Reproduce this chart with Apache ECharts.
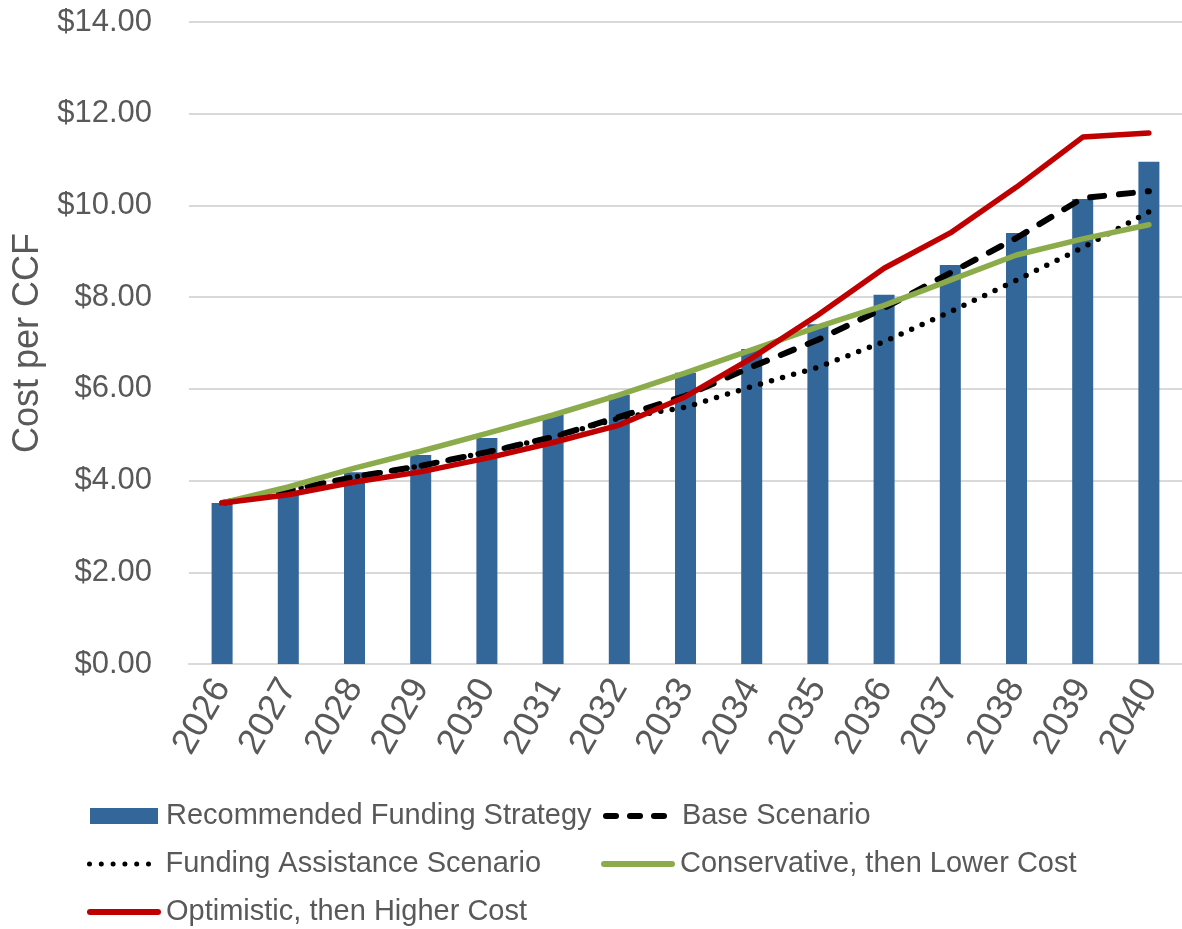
<!DOCTYPE html>
<html>
<head>
<meta charset="utf-8">
<script src="https://cdn.jsdelivr.net/npm/echarts@6/dist/echarts.min.js"></script>
<style>
  html, body { margin: 0; padding: 0; background: #ffffff; }
  #chart { width: 1182px; height: 929px; }
</style>
</head>
<body>
<div id="chart"></div>
<script>
// Projected cost per CCF, 2026-2040
const years = ['2026', '2027', '2028', '2029', '2030', '2031', '2032', '2033',
               '2034', '2035', '2036', '2037', '2038', '2039', '2040'];

const recommendedStrategy = [3.51, 3.78, 4.18, 4.56, 4.93, 5.43, 5.87, 6.35,
                             6.87, 7.41, 8.05, 8.70, 9.40, 10.14, 10.95];
const baseScenario        = [3.51, 3.79, 4.08, 4.32, 4.62, 4.95, 5.39, 5.85,
                             6.48, 7.07, 7.76, 8.53, 9.29, 10.16, 10.31];
const fundingAssistance   = [3.51, 3.79, 4.08, 4.32, 4.62, 4.95, 5.36, 5.60,
                             6.05, 6.47, 7.03, 7.68, 8.37, 9.08, 9.86];
const conservativeLower   = [3.51, 3.86, 4.27, 4.64, 5.03, 5.43, 5.87, 6.35,
                             6.85, 7.35, 7.82, 8.37, 8.92, 9.27, 9.58];
const optimisticHigher    = [3.51, 3.69, 3.97, 4.19, 4.49, 4.83, 5.21, 5.83,
                             6.67, 7.61, 8.63, 9.40, 10.40, 11.49, 11.58];

const yTicks = { min: 0, max: 14, step: 2 };

const textColor = '#595959';
const fontFamily = 'Liberation Sans, Arial, sans-serif';

const baseDash = [14, 15];
const dotDash = [0, 11.5];

// One legend block per entry so each sits in its own row/column slot
function legendAt(name, left, top, iconLine) {
  const legend = {
    data: [name],
    left: left,
    top: top,
    padding: 0,
    itemWidth: 68,
    itemHeight: 16,
    itemGap: 0,
    selectedMode: false,
    textStyle: { color: textColor, fontSize: 29, fontFamily: fontFamily, padding: [0, 0, 0, 3], lineHeight: 32 }
  };
  if (iconLine) {
    legend.itemStyle = { opacity: 0 };
    legend.lineStyle = Object.assign({ cap: 'round' }, iconLine);
  } else {
    legend.icon = 'rect';
  }
  return legend;
}

const chart = echarts.init(document.getElementById('chart'), null, { renderer: 'canvas' });

chart.setOption({
  backgroundColor: '#ffffff',
  animation: false,
  grid: { left: 189, top: 22, width: 1000, height: 642, containLabel: false },
  legend: [
    legendAt('Recommended Funding Strategy', 90, 800),
    legendAt('Base Scenario', 603, 800, { width: 6, type: [10, 14], color: '#000000' }),
    legendAt('Funding Assistance Scenario', 87, 848, { width: 5, type: [0, 11.8], color: '#000000' }),
    legendAt('Conservative, then Lower Cost', 601, 848, { width: 6, type: 'solid', color: '#8cab4b' }),
    legendAt('Optimistic, then Higher Cost', 87, 896, { width: 6, type: 'solid', color: '#c00000' })
  ],
  xAxis: {
    type: 'category',
    data: years,
    boundaryGap: true,
    axisLine: { show: true, lineStyle: { color: '#d9d9d9', width: 2 } },
    axisTick: { show: false },
    axisLabel: {
      interval: 0,
      rotate: 60,
      margin: 18,
      color: textColor,
      fontSize: 36,
      fontFamily: fontFamily
    }
  },
  yAxis: {
    type: 'value',
    min: yTicks.min,
    max: yTicks.max,
    interval: yTicks.step,
    name: 'Cost per CCF',
    nameLocation: 'middle',
    nameGap: 143,
    nameTextStyle: { color: textColor, fontSize: 36, fontFamily: fontFamily },
    axisLine: { show: false },
    axisTick: { show: false },
    axisLabel: {
      margin: 37,
      color: textColor,
      fontSize: 31,
      fontFamily: fontFamily,
      formatter: v => '$' + v.toFixed(2)
    },
    splitLine: { show: true, lineStyle: { color: '#d9d9d9', width: 2 } }
  },
  series: [
    {
      name: 'Recommended Funding Strategy',
      type: 'bar',
      data: recommendedStrategy,
      barWidth: 21,
      itemStyle: { color: '#336699' }
    },
    {
      name: 'Base Scenario',
      type: 'line',
      data: baseScenario,
      symbol: 'none',
      lineStyle: { color: '#000000', width: 6, type: baseDash, cap: 'round' },
      itemStyle: { color: '#000000' }
    },
    {
      name: 'Funding Assistance Scenario',
      type: 'line',
      data: fundingAssistance,
      symbol: 'none',
      lineStyle: { color: '#000000', width: 5.5, type: dotDash, cap: 'round' },
      itemStyle: { color: '#000000' }
    },
    {
      name: 'Conservative, then Lower Cost',
      type: 'line',
      data: conservativeLower,
      symbol: 'none',
      lineStyle: { color: '#8cab4b', width: 5.5, cap: 'round' },
      itemStyle: { color: '#8cab4b' }
    },
    {
      name: 'Optimistic, then Higher Cost',
      type: 'line',
      data: optimisticHigher,
      symbol: 'none',
      lineStyle: { color: '#c00000', width: 5.5, cap: 'round' },
      itemStyle: { color: '#c00000' }
    }
  ]
});
</script>
</body>
</html>
